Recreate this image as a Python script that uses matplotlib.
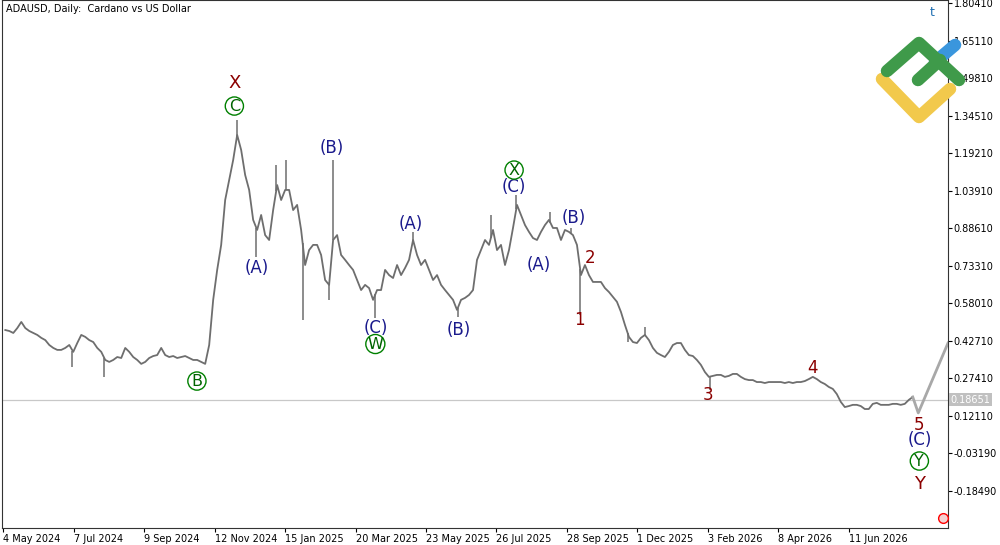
import numpy as np
import pandas as pd
import matplotlib
matplotlib.use('Agg')
import matplotlib.pyplot as plt
import matplotlib.dates as mdates
from matplotlib.lines import Line2D

# --- data ---
closes = [
    0.471, 0.467, 0.459, 0.479, 0.504, 0.479, 0.467, 0.459, 0.451, 0.439, 0.430, 0.410, 0.398, 0.390,
    0.390, 0.398, 0.410, 0.382, 0.418, 0.451, 0.443, 0.430, 0.422, 0.398, 0.382, 0.349, 0.341, 0.349,
    0.361, 0.357, 0.398, 0.382, 0.361, 0.349, 0.333, 0.341, 0.357, 0.365, 0.369, 0.398, 0.369, 0.361,
    0.365, 0.357, 0.361, 0.365, 0.357, 0.349, 0.349, 0.341, 0.333, 0.410, 0.594, 0.716, 0.818, 1.001,
    1.083, 1.164, 1.266, 1.205, 1.103, 1.042, 0.920, 0.879, 0.940, 0.858, 0.838, 0.960, 1.062, 1.001,
    1.042, 1.042, 0.960, 0.981, 0.879, 0.736, 0.797, 0.818, 0.818, 0.777, 0.675, 0.655, 0.838, 0.858,
    0.777, 0.757, 0.736, 0.716, 0.675, 0.634, 0.655, 0.642, 0.594, 0.634, 0.634, 0.716, 0.695, 0.683,
    0.736, 0.695, 0.724, 0.757, 0.838, 0.777, 0.736, 0.757, 0.716, 0.675, 0.695, 0.655, 0.634, 0.614,
    0.594, 0.553, 0.594, 0.602, 0.614, 0.634, 0.757, 0.797, 0.838, 0.818, 0.879, 0.797, 0.818, 0.736,
    0.797, 0.887, 0.981, 0.940, 0.899, 0.871, 0.846, 0.838, 0.871, 0.899, 0.920, 0.887, 0.887, 0.838,
    0.879, 0.871, 0.858, 0.818, 0.695, 0.736, 0.695, 0.667, 0.667, 0.667, 0.642, 0.626, 0.606, 0.586,
    0.545, 0.492, 0.443, 0.422, 0.418, 0.439, 0.451, 0.430, 0.398, 0.378, 0.369, 0.361, 0.382, 0.410,
    0.418, 0.418, 0.390, 0.369, 0.365, 0.349, 0.329, 0.300, 0.280, 0.284, 0.288, 0.288, 0.280, 0.284,
    0.292, 0.292, 0.280, 0.271, 0.267, 0.267, 0.259, 0.259, 0.255, 0.259, 0.259, 0.259, 0.259, 0.255,
    0.259, 0.255, 0.259, 0.259, 0.263, 0.271, 0.280, 0.271, 0.259, 0.251, 0.239, 0.231, 0.210, 0.178,
    0.157, 0.161, 0.166, 0.166, 0.161, 0.149, 0.149, 0.170, 0.174, 0.166, 0.166, 0.166, 0.170, 0.170,
    0.166, 0.170, 0.186, 0.198,
]
first_date = '2024-05-06'
last_date = '2026-08-08'

# single-day wicks (date, extreme)
wick_dates = ['2024-07-06', '2024-08-04', '2024-12-02', '2024-12-20', '2025-01-07', '2025-01-16',
              '2025-01-31', '2025-02-24', '2025-02-28', '2025-04-07', '2025-05-11', '2025-06-21',
              '2025-07-21', '2025-08-13', '2025-09-13', '2025-10-02', '2025-10-10', '2025-11-22',
              '2025-12-08', '2026-02-05']
wick_values = [0.320, 0.280, 1.327, 0.769, 1.144, 1.164, 0.512, 0.594, 1.164, 0.520, 0.871, 0.524,
               0.940, 1.021, 0.952, 0.887, 0.532, 0.422, 0.483, 0.227]

proj_dates = ['2026-08-08', '2026-08-13', '2026-09-09']
proj_values = [0.198, 0.133, 0.418]

current_price = 0.18651

y_ticks = [1.80410, 1.65110, 1.49810, 1.34510, 1.19210, 1.03910, 0.88610, 0.73310,
           0.58010, 0.42710, 0.27410, 0.12110, -0.03190, -0.18490]
x_tick_dates = ['2024-05-04', '2024-07-07', '2024-09-09', '2024-11-12', '2025-01-15', '2025-03-20',
                '2025-05-23', '2025-07-26', '2025-09-28', '2025-12-01', '2026-02-03', '2026-04-08',
                '2026-06-11']

# wave labels: text, date, price, style
labels = [
    ('X', '2024-11-30', 1.478, 'red'),
    ('C', '2024-11-30', 1.384, 'circle'),
    ('B', '2024-10-27', 0.263, 'circle'),
    ('(A)', '2024-12-20', 0.724, 'blue'),
    ('(B)', '2025-02-26', 1.213, 'blue'),
    ('(C)', '2025-04-07', 0.479, 'blue'),
    ('W', '2025-04-07', 0.414, 'circle'),
    ('(A)', '2025-05-09', 0.903, 'blue'),
    ('(B)', '2025-06-22', 0.471, 'blue'),
    ('(C)', '2025-08-11', 1.054, 'blue'),
    ('X', '2025-08-11', 1.123, 'circle'),
    ('(A)', '2025-09-02', 0.736, 'blue'),
    ('(B)', '2025-10-04', 0.928, 'blue'),
    ('2', '2025-10-19', 0.765, 'red'),
    ('1', '2025-10-09', 0.512, 'red'),
    ('3', '2026-02-03', 0.206, 'red'),
    ('4', '2026-05-09', 0.316, 'red'),
    ('5', '2026-08-14', 0.084, 'red'),
    ('(C)', '2026-08-14', 0.023, 'blue'),
    ('Y', '2026-08-14', -0.063, 'circle'),
    ('Y', '2026-08-14', -0.156, 'red'),
]

# --- figure ---
fig = plt.figure(figsize=(10.0, 5.45), dpi=100)
ax = fig.add_axes([0.002, 1 - 528 / 545, 0.946, 528 / 545])

dates = pd.date_range(first_date, last_date, periods=len(closes))
ax.plot(dates, closes, color='#6e6e6e', lw=1.3, zorder=3)

base = np.interp(mdates.date2num(pd.to_datetime(wick_dates)), mdates.date2num(dates), closes)
ax.vlines(pd.to_datetime(wick_dates), base, wick_values, color='#6e6e6e', lw=1.1, zorder=3)

ax.plot(pd.to_datetime(proj_dates), proj_values, color='#a8a8a8', lw=2, zorder=3)
ax.axhline(current_price, color='#c8c8c8', lw=0.9, zorder=1)

ax.set_xlim(pd.Timestamp('2024-05-03'), pd.Timestamp('2026-09-09'))
ax.set_ylim(-0.336, 1.8163)

ax.yaxis.tick_right()
ax.set_yticks(y_ticks)
ax.set_yticklabels([f'{v:.5f}' for v in y_ticks])
ax.set_xticks(pd.to_datetime(x_tick_dates))
ax.set_xticklabels([pd.Timestamp(d).strftime('%-d %b %Y') for d in x_tick_dates])
ax.tick_params(labelsize=7, length=3, width=0.8, pad=1, colors='black')
for lab in ax.get_xticklabels():
    lab.set_horizontalalignment('left')
for s in ax.spines.values():
    s.set_linewidth(0.8)
    s.set_color('#333333')

ax.text(1.003, current_price, f'{current_price:.5f}', transform=ax.get_yaxis_transform(),
        fontsize=7, color='white', va='center', ha='left',
        bbox=dict(boxstyle='square,pad=0.15', fc='#c0c0c0', ec='none'))

ax.text(0.004, 0.992, 'ADAUSD, Daily:  Cardano vs US Dollar', transform=ax.transAxes,
        fontsize=7, va='top', ha='left')

colors = {'red': '#8b0000', 'blue': '#1a1a8c', 'circle': '#006400'}
for txt, d, p, style in labels:
    kw = dict(ha='center', va='center', fontsize=12, color=colors[style], zorder=5)
    if style == 'circle':
        kw['bbox'] = dict(boxstyle='circle,pad=0.1', fc='none', ec='#008000', lw=1)
        kw['fontsize'] = 11.5
    if style == 'red':
        kw['fontsize'] = 13 if txt in 'XY' else 12
    ax.text(pd.Timestamp(d), p, txt, **kw)

# logo in the top-right corner (figure pixels)
def fig_line(xs, ys, color, lw):
    fig.add_artist(Line2D([x / 1000 for x in xs], [1 - y / 545 for y in ys], color=color, lw=lw,
                          solid_capstyle='round', solid_joinstyle='round', transform=fig.transFigure))

fig_line([882, 919, 950], [79, 117, 89], '#f2c94c', 9)
fig_line([935, 955], [62, 45], '#3a96dd', 9)
fig_line([887, 919, 959], [71, 43, 80], '#3f9a4a', 9)
fig_line([918, 940], [80, 60], '#3f9a4a', 9)
fig.text(0.930, 1 - 13 / 545, 't', fontsize=9, color='#1f6fb2', va='center')
fig.add_artist(Line2D([0.943], [1 - 518 / 545], marker='o', ms=7, mfc='#f4d0d0', mec='red',
                      mew=1, transform=fig.transFigure))

fig.savefig('out.png', dpi=100)
